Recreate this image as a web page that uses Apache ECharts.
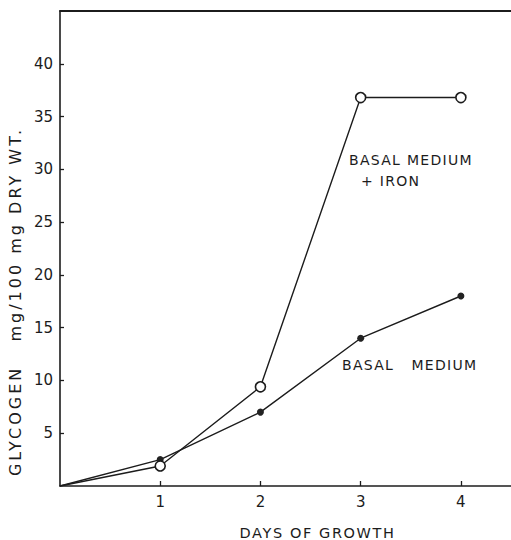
<!DOCTYPE html>
<html>
<head>
<meta charset="utf-8">
<script src="https://cdn.jsdelivr.net/npm/echarts@6/dist/echarts.min.js"></script>
<style>
  html, body { margin: 0; padding: 0; background: #ffffff; }
  #chart { width: 511px; height: 540px; }
  /* hand-lettered look: spaced capitals for titles and notes */
  #chart text[style*="16px"] { letter-spacing: 3px; }
  #chart text[style*="14.5px"] { letter-spacing: 1.6px; }
  #chart text[style*="14px"] { letter-spacing: 1.3px; }
</style>
</head>
<body>
<div id="chart"></div>
<script>
// Glycogen content (mg / 100 mg dry wt.) by day of growth
const days = [0, 1, 2, 3, 4];
const ironValues = [0, 1.9, 9.4, 36.8, 36.8];   // basal medium + iron
const basalValues = [0, 2.5, 7.0, 14.0, 18.0];  // basal medium
const xTickLabels = [1, 2, 3, 4];
const yTickLabels = [5, 10, 15, 20, 25, 30, 35, 40];

const INK = '#1c1c1c';
const FONT = "'DejaVu Sans', sans-serif";
const NOTE_FONT = "14px 'DejaVu Sans', sans-serif";

function toPoints(values) {
  // the curve starts at the origin without a marker
  return days.map((d, i) => (i === 0
    ? { value: [d, values[i]], symbol: 'none' }
    : { value: [d, values[i]] }));
}

const chart = echarts.init(document.getElementById('chart'), null, { renderer: 'svg' });

chart.setOption({
  animation: false,
  backgroundColor: '#ffffff',
  grid: { left: 60, right: 0, top: 11, bottom: 54, containLabel: false, outerBoundsMode: 'none' },
  xAxis: [
    {
      type: 'value',
      min: 0,
      max: 4.5,
      position: 'bottom',
      name: 'DAYS OF GROWTH',
      nameLocation: 'middle',
      nameGap: 39,
      nameTextStyle: { color: INK, fontFamily: FONT, fontSize: 14.5, padding: [0, 0, 0, 64] },
      axisLine: { show: true, lineStyle: { color: INK, width: 1.6 } },
      axisTick: { show: true, inside: true, length: 5, lineStyle: { color: INK, width: 1.3 },
                  customValues: xTickLabels },
      axisLabel: { color: INK, fontFamily: FONT, fontSize: 15, margin: 8,
                   customValues: xTickLabels },
      splitLine: { show: false }
    },
    {
      // closes the frame along the top
      type: 'value',
      min: 0,
      max: 4.5,
      position: 'top',
      axisLine: { show: true, lineStyle: { color: INK, width: 1.8 } },
      axisTick: { show: false },
      axisLabel: { show: false },
      splitLine: { show: false }
    }
  ],
  yAxis: {
    type: 'value',
    min: 0,
    max: 45,
    interval: 5,
    name: 'GLYCOGEN   mg/100 mg DRY WT.',
    nameLocation: 'middle',
    nameRotate: 90,
    nameGap: 28,
    nameTextStyle: { color: INK, fontFamily: FONT, fontSize: 16, padding: [0, 106, 0, 0] },
    axisLine: { show: true, lineStyle: { color: INK, width: 1.6 } },
    axisTick: { show: true, inside: true, length: 4, lineStyle: { color: INK, width: 1.3 },
                customValues: yTickLabels },
    axisLabel: { color: INK, fontFamily: FONT, fontSize: 15, margin: 7,
                 customValues: yTickLabels },
    splitLine: { show: false }
  },
  series: [
    {
      name: 'BASAL MEDIUM + IRON',
      type: 'line',
      data: toPoints(ironValues),
      symbol: 'circle',
      symbolSize: 10,
      lineStyle: { color: INK, width: 1.4 },
      itemStyle: { color: '#ffffff', borderColor: INK, borderWidth: 1.6 },
      z: 3
    },
    {
      name: 'BASAL MEDIUM',
      type: 'line',
      data: toPoints(basalValues),
      symbol: 'circle',
      symbolSize: 7,
      lineStyle: { color: INK, width: 1.4 },
      itemStyle: { color: '#222222', borderColor: INK, borderWidth: 0 },
      z: 2
    }
  ],
  graphic: [
    { type: 'text', left: 349, top: 153,
      style: { text: 'BASAL MEDIUM', fill: INK, font: NOTE_FONT } },
    { type: 'text', left: 361, top: 174,
      style: { text: '+ IRON', fill: INK, font: NOTE_FONT } },
    { type: 'text', left: 342, top: 358,
      style: { text: 'BASAL   MEDIUM', fill: INK, font: NOTE_FONT } }
  ]
});
</script>
</body>
</html>
